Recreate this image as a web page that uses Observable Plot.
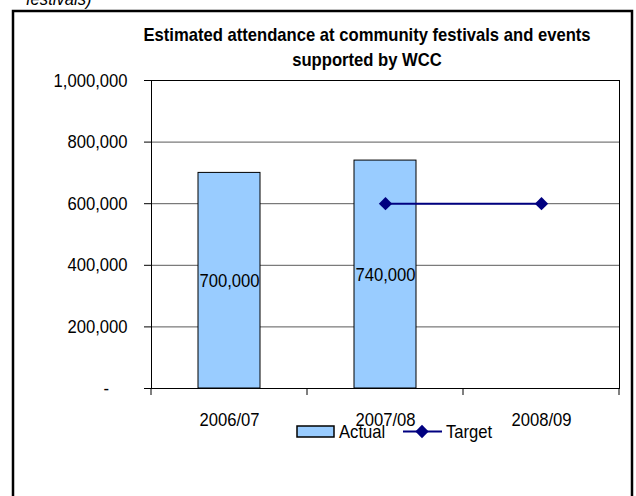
<!DOCTYPE html>
<html>
<head>
<meta charset="utf-8">
<script src="https://cdn.jsdelivr.net/npm/d3@7"></script>
<script src="https://cdn.jsdelivr.net/npm/@observablehq/plot@0.6"></script>
<style>
  html, body { margin: 0; padding: 0; background: #fff; }
  #chart { width: 636px; height: 496px; overflow: hidden; }
</style>
</head>
<body>
<div id="chart"></div>
<script>
// ---- data ----
const categories = ["2006/07", "2007/08", "2008/09"];
const actualYears = ["2006/07", "2007/08"];
const actualValues = [700000, 740000];
const targetYears = ["2007/08", "2008/09"];
const targetValues = [600000, 600000];
const yTicks = [0, 200000, 400000, 600000, 800000, 1000000];
const titleLines = ["Estimated attendance at community festivals and events", "supported by WCC"];
const topNote = "festivals)";
const legendLabels = ["Actual", "Target"];

const actual = actualYears.map((year, i) => ({year, value: actualValues[i]}));
const target = targetYears.map((year, i) => ({year, value: targetValues[i]}));
const fmt = d3.format(",");
const FONT = "'Liberation Sans', Arial, sans-serif";
const barFill = "#99ccff";
const navy = "#000080";

const chart = Plot.plot({
  width: 636,
  height: 496,
  marginLeft: 151,
  marginRight: 17,
  marginTop: 80,
  marginBottom: 108,
  style: {fontFamily: FONT, fontSize: "19px", background: "white", color: "black"},
  x: {domain: categories, paddingInner: 0.6, paddingOuter: 0.3, align: 0.5, label: null},
  y: {domain: [0, 1000000], label: null},
  marks: [
    Plot.ruleY(yTicks.filter(t => t > 0 && t < 1000000), {stroke: "#5a5a5a", strokeWidth: 1}),
    Plot.barY(actual, {x: "year", y: "value", fill: barFill, stroke: "black", strokeWidth: 1}),
    Plot.text(actual, {x: "year", y: d => d.value / 2, text: d => fmt(d.value), fontSize: 19, fill: "black"}),
    Plot.line(target, {x: "year", y: "value", stroke: navy, strokeWidth: 2}),
    Plot.dot(target, {x: "year", y: "value", symbol: "diamond2", fill: navy, stroke: null, r: 6}),
    Plot.frame({stroke: "black", strokeWidth: 1}),
    Plot.axisY({ticks: yTicks, tickFormat: d => d === 0 ? "-\u00a0\u00a0\u00a0\u00a0" : fmt(d), tickSize: 7, tickPadding: 17, label: null, stroke: "black"}),
    Plot.axisX({tickSize: 0, tickPadding: 23.5, label: null})
  ]
});

document.getElementById("chart").appendChild(chart);

// extra annotations via the plot's own scales
const svg = d3.select(chart);
const xs = chart.scale("x");
const ys = chart.scale("y");
const y0 = ys.apply(0);
const gap = (xs.step - xs.bandwidth) / 2;
const bounds = categories.map(c => xs.apply(c) - gap);
bounds.push(xs.apply(categories[categories.length - 1]) + xs.bandwidth + gap);
svg.append("g").attr("stroke", "black").selectAll("line").data(bounds).join("line")
  .attr("x1", d => d).attr("x2", d => d).attr("y1", y0).attr("y2", y0 + 7);

// outer chart border
svg.append("rect").attr("x", 13).attr("y", 11).attr("width", 619).attr("height", 520)
  .attr("fill", "none").attr("stroke", "black").attr("stroke-width", 2.5);

// top note (cut off)
svg.append("text").attr("x", 26).attr("y", 5).attr("font-style", "italic").attr("text-anchor", "start")
  .attr("font-size", 19).attr("fill", "black").text(topNote);

// title
svg.append("g").attr("font-weight", "bold").attr("font-size", 19).attr("text-anchor", "middle").attr("fill", "black")
  .selectAll("text").data(titleLines).join("text")
  .attr("x", 367).attr("y", (d, i) => 40.5 + i * 25.5).text(d => d);

// legend
const lg = svg.append("g").attr("font-size", 19).attr("fill", "black").attr("text-anchor", "start");
lg.append("rect").attr("x", 297).attr("y", 426).attr("width", 37).attr("height", 11)
  .attr("fill", barFill).attr("stroke", "black").attr("stroke-width", 1.5);
lg.append("text").attr("x", 339).attr("y", 438).text(legendLabels[0]);
lg.append("line").attr("x1", 403).attr("x2", 442).attr("y1", 431.5).attr("y2", 431.5)
  .attr("stroke", navy).attr("stroke-width", 2);
lg.append("path").attr("d", d3.symbol(d3.symbolDiamond2, Math.PI * 36)())
  .attr("transform", "translate(422,431.5)").attr("fill", navy);
lg.append("text").attr("x", 446).attr("y", 438).text(legendLabels[1]);

// condensed look: squeeze all text horizontally
chart.querySelectorAll("text").forEach(t => {
  const len = t.getComputedTextLength();
  if (len > 0) {
    t.setAttribute("textLength", (len * 0.875).toFixed(2));
    t.setAttribute("lengthAdjust", "spacingAndGlyphs");
  }
});
</script>
</body>
</html>
